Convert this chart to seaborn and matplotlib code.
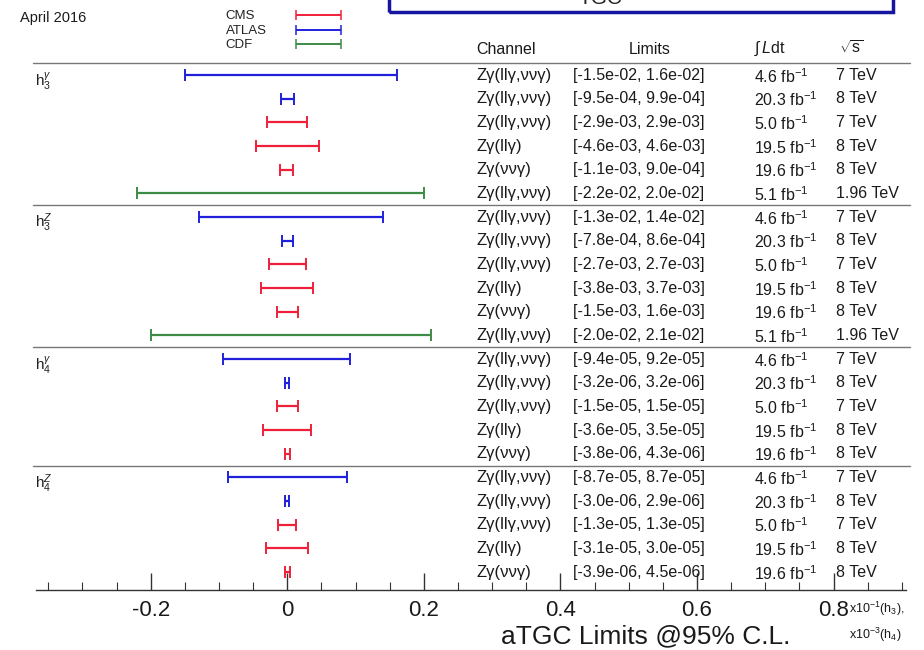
import matplotlib
matplotlib.use("Agg")
import matplotlib.pyplot as plt
import seaborn as sns
import pandas as pd
from matplotlib.patches import Rectangle

# ---------------- data ----------------
groups = ["h3g", "h3Z", "h4g", "h4Z"]
group_labels = [r"$\mathrm{h}_3^{\gamma}$", r"$\mathrm{h}_3^{Z}$",
                r"$\mathrm{h}_4^{\gamma}$", r"$\mathrm{h}_4^{Z}$"]
group_scale = [1e1, 1e1, 1e3, 1e3]

experiments = ["ATLAS", "ATLAS", "CMS", "CMS", "CMS", "CDF",
               "ATLAS", "ATLAS", "CMS", "CMS", "CMS", "CDF",
               "ATLAS", "ATLAS", "CMS", "CMS", "CMS",
               "ATLAS", "ATLAS", "CMS", "CMS", "CMS"]
row_group = [0] * 6 + [1] * 6 + [2] * 5 + [3] * 5
channels = ["Zγ(llγ,ννγ)", "Zγ(llγ,ννγ)", "Zγ(llγ,ννγ)", "Zγ(llγ)", "Zγ(ννγ)", "Zγ(llγ,ννγ)",
            "Zγ(llγ,ννγ)", "Zγ(llγ,ννγ)", "Zγ(llγ,ννγ)", "Zγ(llγ)", "Zγ(ννγ)", "Zγ(llγ,ννγ)",
            "Zγ(llγ,ννγ)", "Zγ(llγ,ννγ)", "Zγ(llγ,ννγ)", "Zγ(llγ)", "Zγ(ννγ)",
            "Zγ(llγ,ννγ)", "Zγ(llγ,ννγ)", "Zγ(llγ,ννγ)", "Zγ(llγ)", "Zγ(ννγ)"]
lower = [-1.5e-02, -9.5e-04, -2.9e-03, -4.6e-03, -1.1e-03, -2.2e-02,
         -1.3e-02, -7.8e-04, -2.7e-03, -3.8e-03, -1.5e-03, -2.0e-02,
         -9.4e-05, -3.2e-06, -1.5e-05, -3.6e-05, -3.8e-06,
         -8.7e-05, -3.0e-06, -1.3e-05, -3.1e-05, -3.9e-06]
upper = [1.6e-02, 9.9e-04, 2.9e-03, 4.6e-03, 9.0e-04, 2.0e-02,
         1.4e-02, 8.6e-04, 2.7e-03, 3.7e-03, 1.6e-03, 2.1e-02,
         9.2e-05, 3.2e-06, 1.5e-05, 3.5e-05, 4.3e-06,
         8.7e-05, 2.9e-06, 1.3e-05, 3.0e-05, 4.5e-06]
lumi = ["4.6", "20.3", "5.0", "19.5", "19.6", "5.1",
        "4.6", "20.3", "5.0", "19.5", "19.6", "5.1",
        "4.6", "20.3", "5.0", "19.5", "19.6",
        "4.6", "20.3", "5.0", "19.5", "19.6"]
energy = ["7 TeV", "8 TeV", "7 TeV", "8 TeV", "8 TeV", "1.96 TeV",
          "7 TeV", "8 TeV", "7 TeV", "8 TeV", "8 TeV", "1.96 TeV",
          "7 TeV", "8 TeV", "7 TeV", "8 TeV", "8 TeV",
          "7 TeV", "8 TeV", "7 TeV", "8 TeV", "8 TeV"]
legend_order = ["CMS", "ATLAS", "CDF"]
colors = {"CMS": "#f0203a", "ATLAS": "#2020dc", "CDF": "#3c8c46"}
xticks_major = [-0.2, 0, 0.2, 0.4, 0.6, 0.8]
xtick_labels = ["-0.2", "0", "0.2", "0.4", "0.6", "0.8"]

# ---------------- setup ----------------
sns.set_theme(style="white")
plt.rcParams["font.family"] = ["Liberation Sans", "DejaVu Sans"]
plt.rcParams["mathtext.fontset"] = "custom"
plt.rcParams["mathtext.rm"] = "Liberation Sans"
plt.rcParams["mathtext.it"] = "Liberation Sans:italic"
plt.rcParams["mathtext.bf"] = "Liberation Sans:bold"
plt.rcParams["text.color"] = "#1a1a1a"

df = pd.DataFrame({
    "exp": experiments, "group": row_group, "channel": channels,
    "lo": lower, "hi": upper, "lumi": lumi, "energy": energy,
})
df["row"] = range(len(df))
df["scale"] = [group_scale[g] for g in df["group"]]
df["plo"] = df["lo"] * df["scale"]
df["phi"] = df["hi"] * df["scale"]
df["mid"] = (df["plo"] + df["phi"]) / 2

fig = plt.figure(figsize=(9.24, 6.5), dpi=100)
ax = fig.add_axes([36 / 924, 60 / 650, 870 / 924, 590 / 650])
ax.set_xlim(-0.368, 0.906)
ax.set_ylim(21.76, -3.17)

# error bars
for exp in legend_order:
    sub = df[df["exp"] == exp]
    ax.errorbar(sub["mid"], sub["row"],
                xerr=[sub["mid"] - sub["plo"], sub["phi"] - sub["mid"]],
                fmt="none", ecolor=colors[exp], elinewidth=1.6,
                capsize=4.5, capthick=1.4)

# legend (manual, as in the reference)
for i, exp in enumerate(legend_order):
    yy = -2.53 + i * 0.61
    ax.errorbar([0.046], [yy], xerr=[[0.033], [0.033]], fmt="none",
                ecolor=colors[exp], elinewidth=1.4, capsize=3.5, capthick=1.1,
                clip_on=False)
    ax.text(-0.09, yy + 0.05, exp, fontsize=9.5, va="center", ha="left", color="#222222")

# separators
for ysep in [-0.5, 5.5, 11.5, 16.5]:
    ax.plot([-0.372, 0.912], [ysep, ysep], color="#777777", lw=1.0, clip_on=False)

# group labels
for g, lab in enumerate(group_labels):
    first = df[df["group"] == g]["row"].min()
    ax.text(-0.37, first + 0.25, lab, fontsize=11, va="center", ha="left", color="#222222")

# table
xc, xl, xlu, xe = 0.277, 0.419, 0.684, 0.804
hy = -1.06
ax.text(xc, hy, "Channel", fontsize=11.5, va="center", ha="left")
ax.text(0.53, hy, "Limits", fontsize=11.5, va="center", ha="center")
ax.text(xlu, hy - 0.05, r"$\int\,\mathit{L}\mathrm{dt}$", fontsize=11.5, va="center", ha="left")
ax.text(xe + 0.004, hy - 0.05, r"$\sqrt{\mathrm{s}}$", fontsize=11.5, va="center", ha="left")
for _, r in df.iterrows():
    y = r["row"]
    ax.text(xc, y, r["channel"], fontsize=12, va="center", ha="left")
    ax.text(xl, y, f"[{r['lo']:.1e}, {r['hi']:.1e}]", fontsize=11.5, va="center", ha="left")
    ax.text(xlu, y + 0.05, f"{r['lumi']} fb$^{{-1}}$", fontsize=11.5, va="center", ha="left")
    ax.text(xe, y, r["energy"], fontsize=11.5, va="center", ha="left")

# axis styling
sns.despine(ax=ax, left=True, top=True, right=True)
ax.spines["bottom"].set_color("#333333")
ax.spines["bottom"].set_linewidth(1.0)
ax.set_yticks([])
ax.set_xticks(xticks_major)
ax.set_xticklabels(xtick_labels, fontsize=16)
ax.set_xticks([v / 100 for v in range(-35, 91, 5)], minor=True)
ax.tick_params(axis="x", which="major", direction="in", length=12, width=1.0,
               color="#333333", pad=7, bottom=True, labelcolor="#1a1a1a")
ax.tick_params(axis="x", which="minor", direction="in", length=6, width=0.8,
               color="#333333", bottom=True)

# axis titles
fig.text(790 / 924, 1 - 636 / 650, "aTGC Limits @95% C.L.", fontsize=19,
         ha="right", va="center")
fig.text(849 / 924, 1 - 609 / 650, r"x10$^{-1}$(h$_3$),", fontsize=9, ha="left", va="center")
fig.text(849 / 924, 1 - 635 / 650, r"x10$^{-3}$(h$_4$)", fontsize=9, ha="left", va="center")

fig.text(20 / 924, 1 - 18 / 650, "April 2016", fontsize=10.5, ha="left", va="center")

# partially visible title box at the top
fig.patches.append(Rectangle((389 / 924, 1 - 12 / 650), 504 / 924, 0.1,
                             transform=fig.transFigure, fill=False,
                             edgecolor="#1515a0", lw=2.5, clip_on=False))
fig.text(600 / 924, 1 - 4 / 650, "TGC", fontsize=15, ha="center", va="baseline",
         color="#222222")

fig.savefig("out.png", dpi=100)
